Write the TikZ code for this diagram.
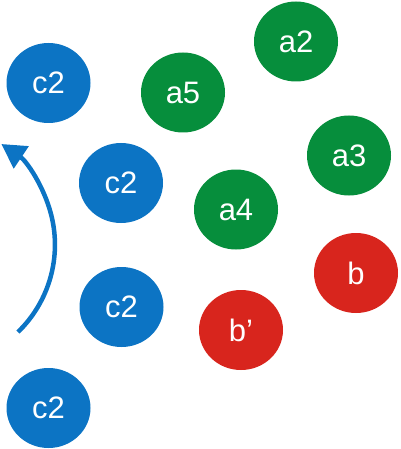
\documentclass[tikz,border=0pt]{standalone}
\usepackage{fontspec}
\setmainfont{Liberation Sans}
\usetikzlibrary{shapes.geometric,arrows.meta}
\definecolor{cblue}{RGB}{12,116,196}
\definecolor{cgreen}{RGB}{6,142,60}
\definecolor{cred}{RGB}{216,37,29}
\tikzset{
  ball/.style={ellipse, minimum width=84pt, minimum height=80pt, inner sep=0pt,
    text=white, font=\fontsize{31}{31}\selectfont},
  bblue/.style={ball, fill=cblue},
  bgreen/.style={ball, fill=cgreen},
  bred/.style={ball, fill=cred},
  curvearrow/.style={draw=cblue, line width=4.5pt, -{Triangle[length=24pt,width=26pt]}}
}
\begin{document}
\begin{tikzpicture}[x=1pt,y=-1pt]
\useasboundingbox (0,0) rectangle (400,449);
\node[bblue] (c2a) at (48.5,83) {c2};
\node[bblue] (c2b) at (121,183) {c2};
\node[bblue] (c2c) at (121.5,307) {c2};
\node[bblue] (c2d) at (48.5,408) {c2};
\node[bgreen] (a5) at (183,92.5) {a5};
\node[bgreen] (a2) at (296,41.5) {a2};
\node[bgreen] (a3) at (349,155.5) {a3};
\node[bgreen] (a4) at (236,209.5) {a4};
\node[bred] (b) at (356,273) {b};
\node[bred] (bp) at (241,330) {b’};
\coordinate (arrS) at (18,332);
\draw[curvearrow] (arrS) arc[start angle=45.9, end angle=-56, radius=121.5];
\end{tikzpicture}
\end{document}
